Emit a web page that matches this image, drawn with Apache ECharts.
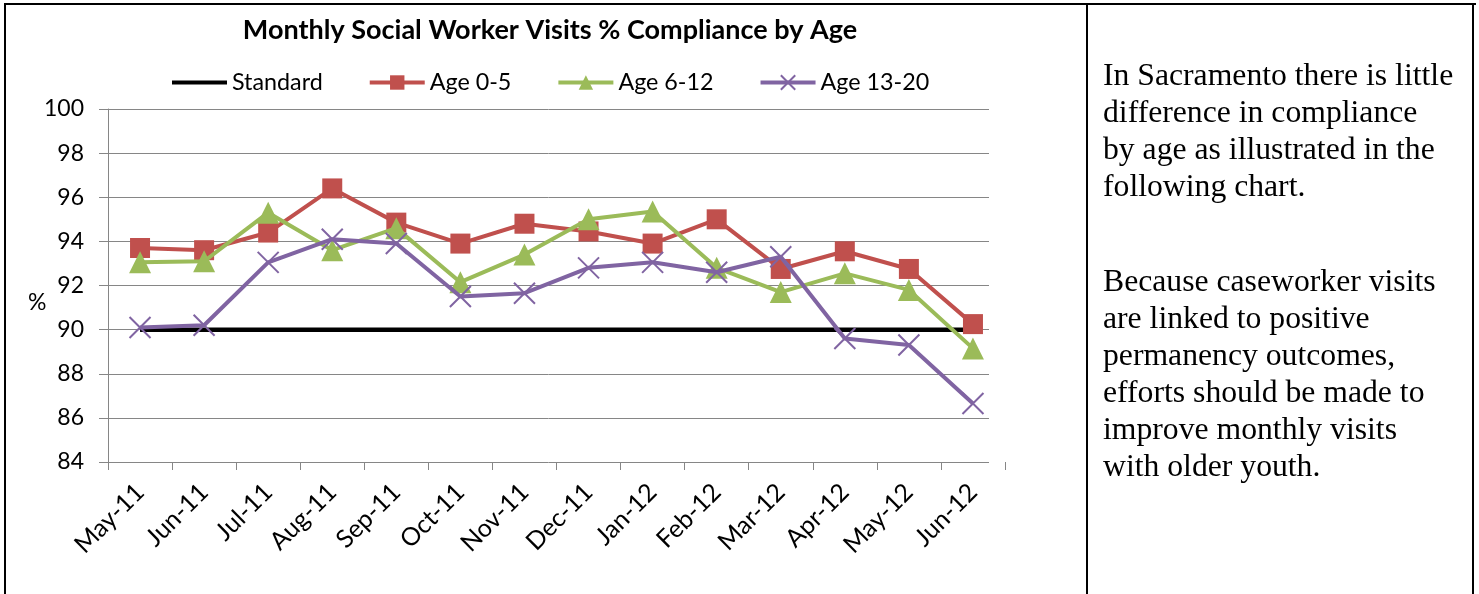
<!DOCTYPE html>
<html>
<head>
<meta charset="utf-8">
<script src="https://cdn.jsdelivr.net/npm/echarts@6/dist/echarts.min.js"></script>
<style>
  html, body { margin: 0; padding: 0; background: #fff; }
  #wrap { position: relative; width: 1479px; height: 594px; overflow: hidden; background: #fff; }
  #chart { position: absolute; left: 0; top: 0; width: 1479px; height: 594px; }
  .bd { position: absolute; background: #000; }
  .para { position: absolute; left: 1103px; font-family: "Liberation Serif", "Times New Roman", serif; font-size: 31.7px; line-height: 37px; color: #000; white-space: nowrap; }
</style>
</head>
<body>
<div id="wrap">
  <div id="chart"></div>
  <div class="bd" style="left:4px; top:3px; width:1472px; height:2px;"></div>
  <div class="bd" style="left:4px; top:3px; width:2px; height:591px;"></div>
  <div class="bd" style="left:1086px; top:3px; width:2px; height:591px;"></div>
  <div class="bd" style="left:1472px; top:3px; width:2px; height:591px;"></div>
  <div class="para" style="top:56px;">In Sacramento there is little<br>difference in compliance<br>by age as illustrated in the<br>following chart.</div>
  <div class="para" style="top:262px;">Because caseworker visits<br>are linked to positive<br>permanency outcomes,<br>efforts should be made to<br>improve monthly visits<br>with older youth.</div>
</div>
<script>
const categories = ['May-11','Jun-11','Jul-11','Aug-11','Sep-11','Oct-11','Nov-11','Dec-11','Jan-12','Feb-12','Mar-12','Apr-12','May-12','Jun-12'];
const standard = [90, 90, 90, 90, 90, 90, 90, 90, 90, 90, 90, 90, 90, 90];
const age0to5 = [93.7, 93.6, 94.4, 96.4, 94.85, 93.9, 94.8, 94.45, 93.9, 95.0, 92.75, 93.55, 92.75, 90.25];
const age6to12 = [93.05, 93.1, 95.3, 93.6, 94.6, 92.15, 93.4, 95.0, 95.35, 92.8, 91.7, 92.55, 91.8, 89.15];
const age13to20 = [90.1, 90.2, 93.05, 94.1, 93.9, 91.5, 91.65, 92.8, 93.05, 92.6, 93.3, 89.6, 89.3, 86.65];
const yTicks = { min: 84, max: 100, interval: 2 };

const FONT = 'Lato, "Open Sans", sans-serif';
const GRAY = '#868686';
const xMark = 'path://M0,0L10,10M10,0L0,10';
const lineIcon = 'path://M0,0L56,0L56,4L0,4Z';

const chart = echarts.init(document.getElementById('chart'), null, { renderer: 'canvas' });
chart.setOption({
  animation: false,
  backgroundColor: 'transparent',
  title: {
    text: 'Monthly Social Worker Visits % Compliance by Age',
    left: 550, top: 17, textAlign: 'center', padding: 0,
    textStyle: { fontFamily: FONT, fontWeight: 'bold', fontSize: 27, color: '#000' }
  },
  legend: {
    left: 172, top: 71, padding: 0, itemGap: 45, itemWidth: 55, itemHeight: 18,
    lineStyle: { width: 'inherit' },
    textStyle: { fontFamily: FONT, fontSize: 23.3, color: '#000', padding: [0, 0, 0, 0] },
    data: [{ name: 'Standard', icon: lineIcon }, 'Age 0-5', 'Age 6-12', 'Age 13-20']
  },
  graphic: [{
    type: 'text', left: 28, top: 291,
    style: { text: '%', fontFamily: FONT, fontSize: 23, fill: '#000' }
  }],
  grid: [
    { left: 108, top: 109, width: 881, height: 353 },
    { left: 108, top: 109, width: 897, height: 353 }
  ],
  xAxis: [
    { gridIndex: 0, type: 'value', show: false, min: 0, max: 1 },
    {
      gridIndex: 1, type: 'category', data: categories, boundaryGap: true,
      axisLine: { show: false },
      axisTick: { show: true, length: 8, lineStyle: { color: GRAY, width: 1 } },
      axisLabel: { rotate: 45, margin: 26, fontFamily: FONT, fontSize: 25, color: '#000', interval: 0 },
      splitLine: { show: false }
    }
  ],
  yAxis: [
    {
      gridIndex: 0, type: 'value', min: yTicks.min, max: yTicks.max, interval: yTicks.interval,
      axisLine: { show: true, lineStyle: { color: GRAY, width: 1 } },
      axisTick: { show: true, length: 9, lineStyle: { color: GRAY, width: 1 } },
      axisLabel: { margin: 24, fontFamily: FONT, fontSize: 23, color: '#000' },
      splitLine: { show: true, lineStyle: { color: GRAY, width: 1 } }
    },
    {
      gridIndex: 1, type: 'value', min: yTicks.min, max: yTicks.max, interval: yTicks.interval,
      show: false, splitLine: { show: false }
    }
  ],
  series: [
    {
      name: 'Standard', type: 'line', xAxisIndex: 1, yAxisIndex: 1, data: standard,
      symbol: 'none', lineStyle: { color: '#000', width: 4.5 }, itemStyle: { color: '#000' }, z: 2
    },
    {
      name: 'Age 0-5', type: 'line', xAxisIndex: 1, yAxisIndex: 1, data: age0to5,
      symbol: 'rect', symbolSize: 20, showSymbol: true,
      lineStyle: { color: '#C0504D', width: 4 }, itemStyle: { color: '#C0504D' }, z: 3
    },
    {
      name: 'Age 6-12', type: 'line', xAxisIndex: 1, yAxisIndex: 1, data: age6to12,
      symbol: 'triangle', symbolSize: 22, showSymbol: true,
      lineStyle: { color: '#9BBB59', width: 4 }, itemStyle: { color: '#9BBB59' }, z: 4
    },
    {
      name: 'Age 13-20', type: 'line', xAxisIndex: 1, yAxisIndex: 1, data: age13to20,
      symbol: xMark, symbolSize: 21, showSymbol: true,
      lineStyle: { color: '#8064A2', width: 4 },
      itemStyle: { color: '#8064A2', borderColor: '#8064A2', borderWidth: 2 }, z: 5
    }
  ]
});
</script>
</body>
</html>
